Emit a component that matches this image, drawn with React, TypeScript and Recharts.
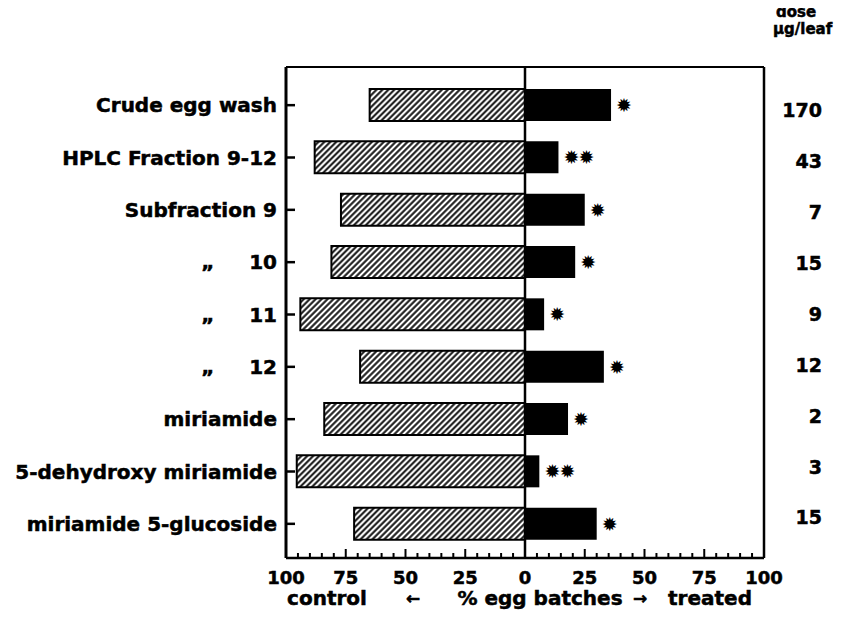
import React from "react";
import {
  BarChart,
  Bar,
  XAxis,
  YAxis,
  ReferenceLine,
  LabelList,
} from "recharts";

// rows, top to bottom
const categories = [
  "Crude egg wash",
  "HPLC Fraction 9-12",
  "Subfraction 9",
  "\u201E     10",
  "\u201E     11",
  "\u201E     12",
  "miriamide",
  "5-dehydroxy miriamide",
  "miriamide 5-glucoside",
];
// % egg batches laid on control leaves (drawn to the left)
const controlPct = [65, 88, 77, 81, 94, 69, 84, 95.5, 71.5];
// % egg batches laid on treated leaves (drawn to the right)
const treatedPct = [36, 14, 25, 21, 8, 33, 18, 6, 30];
// dose, µg/leaf
const doses = ["170", "43", "7", "15", "9", "12", "2", "3", "15"];
const significance = ["*", "**", "*", "*", "*", "*", "*", "**", "*"];

const xTicks = [-100, -95, -90, -85, -80, -75, -70, -65, -60, -55, -50, -45, -40, -35, -30, -25, -20, -15, -10, -5, 0,
  5, 10, 15, 20, 25, 30, 35, 40, 45, 50, 55, 60, 65, 70, 75, 80, 85, 90, 95, 100];

const data = categories.map((name, i) => ({
  name,
  control: -controlPct[i],
  treated: treatedPct[i],
  dose: doses[i],
  sig: significance[i],
}));

const INK = "#000";
const FONT = "'DejaVu Sans', sans-serif";
// a thin outline on the text mimics the heavy print of the original
const heavy = { stroke: INK, strokeWidth: 0.5 };

function CategoryTick(props: any) {
  const { x, y, payload } = props;
  const axisX = x + 9;
  return (
    <g>
      <line x1={axisX} x2={axisX + 9} y1={y} y2={y} stroke={INK} strokeWidth={2.5} />
      <text
        x={x}
        y={y}
        dy="0.36em"
        textAnchor="end"
        fontFamily={FONT}
        fontWeight="bold"
        fontSize={20}
        fill={INK}
        {...heavy}
        style={{ whiteSpace: "pre" }}
      >
        {payload.value}
      </text>
    </g>
  );
}

function PercentTick(props: any) {
  const { x, y, payload } = props;
  const v = payload.value as number;
  const major = v % 25 === 0;
  return (
    <g>
      <line x1={x} x2={x} y1={y} y2={y - (major ? 9 : 5)} stroke={INK} strokeWidth={2} />
      {major && (
        <text
          x={x}
          y={y + 26}
          textAnchor="middle"
          fontFamily={FONT}
          fontWeight="bold"
          fontSize={18}
          fill={INK}
          {...heavy}
        >
          {Math.abs(v)}
        </text>
      )}
    </g>
  );
}

function DoseTick(props: any) {
  const { x, y, index } = props;
  return (
    <text
      x={x + 58}
      y={y}
      dy="0.36em"
      textAnchor="end"
      fontFamily={FONT}
      fontWeight="bold"
      fontSize={19}
      fill={INK}
      {...heavy}
    >
      {doses[index]}
    </text>
  );
}

function SigLabel(props: any) {
  const vb = props.viewBox ?? props;
  const { x, y, width, height } = vb;
  const marks = String(props.value ?? "").length;
  const end = x + width;
  return (
    <g>
      {Array.from({ length: marks }, (_, i) => (
        <text
          key={i}
          x={end + 13 + i * 15}
          y={y + height / 2}
          dy="0.36em"
          textAnchor="middle"
          fontFamily={FONT}
          fontSize={19}
          fill={INK}
        >
          {"\u2739"}
        </text>
      ))}
    </g>
  );
}

export default function App() {
  return (
    <div style={{ margin: -8, width: 856, height: 633, background: "#fff" }}>
      <BarChart
        width={856}
        height={633}
        data={data}
        layout="vertical"
        stackOffset="sign"
        barSize={32}
        margin={{ top: 66, right: 0, bottom: 0, left: 0 }}
      >
        <defs>
          <pattern
            id="hatch"
            patternUnits="userSpaceOnUse"
            width={4.2}
            height={4.2}
            patternTransform="rotate(45)"
          >
            <rect width={4.2} height={4.2} fill="#fff" />
            <line x1={2.1} x2={2.1} y1={0} y2={4.2} stroke="#111" strokeWidth={2} />
          </pattern>
        </defs>
        <XAxis
          type="number"
          domain={[-100, 100]}
          ticks={xTicks}
          interval={0}
          height={75}
          tickSize={0}
          tickMargin={0}
          tickLine={false}
          tick={<PercentTick />}
          axisLine={{ stroke: INK, strokeWidth: 2.5 }}
        />
        <XAxis
          xAxisId="top"
          orientation="top"
          type="number"
          domain={[-100, 100]}
          height={1}
          tick={false}
          tickLine={false}
          axisLine={{ stroke: INK, strokeWidth: 2 }}
        />
        <YAxis
          type="category"
          dataKey="name"
          width={286}
          padding={{ top: 12, bottom: 8 }}
          tickSize={0}
          tickMargin={9}
          tickLine={false}
          interval={0}
          tick={<CategoryTick />}
          axisLine={{ stroke: INK, strokeWidth: 3 }}
        />
        <YAxis
          yAxisId="dose"
          orientation="right"
          type="category"
          dataKey="name"
          width={92}
          padding={{ top: 18, bottom: 15 }}
          tickSize={0}
          tickMargin={0}
          tickLine={false}
          interval={0}
          tick={<DoseTick />}
          axisLine={{ stroke: INK, strokeWidth: 2.5 }}
        />
        <Bar
          dataKey="control"
          stackId="pct"
          fill="url(#hatch)"
          stroke={INK}
          strokeWidth={2}
          isAnimationActive={false}
        />
        <Bar dataKey="treated" stackId="pct" fill={INK} isAnimationActive={false}>
          <LabelList dataKey="sig" content={<SigLabel />} />
        </Bar>
        <ReferenceLine x={0} stroke={INK} strokeWidth={2.5} />

        <text x={776} y={17} fontFamily={FONT} fontWeight="bold" fontSize={15} fill={INK} {...heavy}>
          dose
        </text>
        <text x={773} y={34} fontFamily={FONT} fontWeight="bold" fontSize={15} fill={INK} {...heavy}>
          {"\u00B5g/leaf"}
        </text>

        <g fontFamily={FONT} fontWeight="bold" fontSize={20} fill={INK} textAnchor="middle" {...heavy}>
          <text x={327} y={605}>control</text>
          <text x={413} y={604} fontSize={17}>{"\u2190"}</text>
          <text x={540} y={605}>% egg batches</text>
          <text x={640} y={604} fontSize={17}>{"\u2192"}</text>
          <text x={710} y={605}>treated</text>
        </g>
      </BarChart>
    </div>
  );
}
